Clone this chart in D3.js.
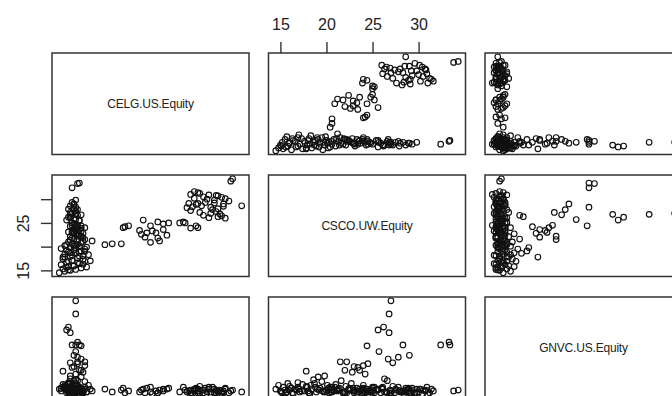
<!DOCTYPE html>
<html>
<head>
<meta charset="utf-8">
<script src="https://cdn.jsdelivr.net/npm/d3@7"></script>
<style>
    body { margin: 0; background: #fff; }
    svg { display: block; font-family: "Liberation Sans", Arial, sans-serif; }
</style>
</head>
<body>
<div id="chart"></div>
<script>
const names = ["CELG.US.Equity", "CSCO.UW.Equity", "GNVC.US.Equity"];

// one row per trading day, same order in the three arrays
const celg = [
    75.0, 72.0, 72.5, 71.5, 70.5, 69.5, 68.5, 70.5, 69.5, 69.0, 68.0, 67.0, 68.5, 66.0, 64.5, 63.5, 66.5,
    64.0, 61.5, 62.5, 60.5, 63.0, 67.5, 65.5, 68.0, 66.0, 63.5, 62.0, 63.0, 61.0, 61.0, 60.0, 65.0, 70.0,
    63.0, 62.5, 61.0, 59.5, 58.0, 55.0, 53.5, 52.0, 48.0, 50.0, 59.0, 52.5, 52.0, 54.5, 51.5, 49.0, 50.5,
    47.5, 47.0, 50.0, 48.5, 53.5, 44.0, 42.5, 43.0, 42.0, 39.5, 37.5, 34.0,
    29.5, 29.5, 27.5, 27.0, 28.0, 28.5, 30.0, 30.5, 29.5, 31.0, 29.5, 29.0, 30.0, 31.0, 28.0, 30.0, 29.0,
    30.5, 29.5, 31.5, 30.0, 28.5, 31.0, 32.0, 26.0, 32.0,
    25.0, 26.5, 28.0, 26.0, 29.5, 31.0, 27.5, 32.5, 25.5, 29.0, 30.5, 27.0, 32.0, 28.5, 33.5, 26.0, 30.0,
    28.0, 31.5, 26.5, 29.5, 33.0, 27.5, 31.0, 29.0, 25.5, 32.0, 28.0, 30.5, 29.5, 28.5, 31.0, 27.5, 30.0,
    29.0, 31.5, 28.0, 30.5, 29.5, 28.5, 31.0, 29.0, 30.0, 28.0, 29.5, 28.5, 30.5, 29.0, 28.0, 30.0, 28.5,
    29.5, 29.0, 28.0, 28.5, 29.5,
    27.0, 30.0, 31.5, 28.5, 30.5, 27.0, 32.5, 29.0, 30.0, 28.0, 31.0, 29.0, 30.0, 28.5, 27.5, 26.5,
    27.5, 29.0, 31.5, 26.5, 30.5, 28.0, 32.0, 29.5, 27.0, 31.5, 28.5, 30.0, 27.5, 31.0, 29.0, 30.5,
    28.0, 29.5, 27.5, 29.0,
    70.0, 67.5, 64.5, 68.5, 62.0, 66.5
];
const csco = [
    28.6, 33.8, 34.3, 29.6, 30.1, 30.4, 30.7, 26.0, 26.5, 26.9, 27.4, 27.8, 28.0, 26.1, 26.6, 27.2, 28.3,
    28.6, 28.4, 28.9, 29.1, 29.1, 29.8, 30.0, 30.8, 30.9, 31.2, 31.6, 31.4, 31.0, 27.6, 28.2, 29.3, 29.0,
    24.0, 24.4, 23.9, 25.0, 25.0, 25.0, 24.8, 25.2, 25.6, 24.4, 25.2, 21.2, 21.8, 22.4, 22.9, 22.9, 23.3,
    22.6, 23.4, 20.9, 22.0, 23.6, 24.4, 24.0, 24.2, 20.6, 20.6, 20.4, 21.2,
    27.0, 26.8, 26.2, 25.6, 26.8, 32.4, 33.3, 33.4, 28.3, 24.4, 25.7, 29.0, 27.8, 26.7, 27.2, 22.2, 23.0,
    23.6, 24.2, 22.8, 24.5, 23.4, 22.0, 24.0, 17.8, 21.5,
    14.5, 14.8, 15.0, 15.3, 15.2, 15.5, 15.8, 15.7, 16.2, 16.0, 16.4, 16.7, 16.9, 17.1, 17.0, 17.4, 17.6,
    17.9, 18.1, 18.4, 18.6, 18.3, 18.9, 19.1, 19.3, 19.6, 19.5, 19.8, 20.0, 20.3, 20.6, 20.8, 21.0, 21.3,
    21.6, 21.9, 22.1, 22.4, 22.7, 23.0, 23.3, 23.7, 24.0, 24.3, 24.7, 25.0, 25.4, 25.9, 26.3, 26.6, 27.0,
    27.5, 28.0, 28.6, 29.3, 29.8,
    15.6, 16.6, 17.3, 18.2, 18.8, 19.2, 19.9, 20.1, 20.5, 21.4, 22.2, 22.9, 23.5, 24.5, 16.9, 20.2,
    15.1, 15.9, 16.3, 17.8, 18.0, 18.7, 19.0, 19.7, 20.4, 21.1, 21.8, 22.5, 23.1, 23.9, 24.8, 25.6,
    26.1, 26.9, 27.9, 28.9,
    28.5, 29.2, 30.5, 26.3, 30.2, 27.0
];
const gnvc = [
    1.3, 1.4, 1.5, 1.2, 1.6, 1.1, 1.4, 1.7, 1.3, 1.5, 1.2, 1.8, 1.4, 1.6, 1.2, 1.9, 1.3,
    1.5, 1.1, 1.7, 1.4, 1.2, 1.6, 1.3, 1.5, 1.8, 1.2, 1.4, 1.6, 1.0, 1.5, 1.3, 1.7, 1.2,
    1.4, 1.6, 1.2, 1.5, 1.3, 1.7, 1.4, 1.2, 1.6, 1.3, 1.8, 1.5, 1.2, 1.6, 1.4, 1.7, 1.1,
    1.5, 1.3, 1.8, 1.2, 1.6, 1.4, 1.7, 1.2, 1.5, 1.3, 1.6, 1.4,
    11.0, 9.6, 8.2, 7.9, 7.6, 6.3, 6.6, 6.3, 6.3, 6.2, 5.6, 5.2, 5.0, 4.8, 4.4, 4.5, 4.0,
    3.6, 3.2, 3.4, 4.3, 3.9, 3.6, 4.1, 3.5, 4.5,
    1.6, 2.0, 1.4, 1.8, 1.2, 1.5, 2.2, 1.3, 1.7, 1.9, 1.1, 1.5, 1.8, 1.3, 1.6, 2.1, 1.4,
    1.8, 1.2, 1.6, 2.6, 2.0, 1.3, 2.9, 1.7, 1.4, 2.4, 3.0, 1.5, 1.2, 1.8, 1.4, 2.1, 1.6,
    2.5, 1.3, 1.9, 1.5, 2.2, 1.2, 1.7, 1.4, 2.0, 1.6, 1.3, 1.8, 1.5, 1.2, 2.7, 2.5, 1.4,
    1.6, 1.3, 1.7, 1.5, 1.2,
    1.2, 1.6, 1.4, 1.1, 1.8, 1.5, 1.3, 2.0, 1.3, 1.7, 1.2, 1.5, 1.3, 1.0, 2.3, 1.7,
    1.3, 1.5, 1.2, 1.9, 1.4, 2.2, 1.6, 1.3, 1.8, 1.5, 1.2, 1.7, 1.4, 1.6, 1.3, 1.5,
    1.8, 1.2, 1.4, 1.6,
    1.4, 1.2, 1.5, 1.3, 1.6, 1.1
];
const series = [celg, csco, gnvc];

const axisTicks = [15, 20, 25, 30];
const axisLabels = [15, 20, 25, 30];
const sideLabels = [15, 25];   // R drops the overlapping ones on the vertical axis

const width = 672;
const height = 396;

const svg = d3.select('#chart')
    .append('svg')
    .attr('width', width)
    .attr('height', height);

// panel grid (pairs() layout, the right column and last row run off the picture)
const gridLeft = 52, gridTop = 53;
const cellW = 197, cellH = 101.5;
const gapX = 19.5, gapY = 20.5;
const colX = (j) => gridLeft + j * (cellW + gapX);
const rowY = (i) => gridTop + i * (cellH + gapY);

// R pads the data range by 4% on each side
const padded = (values) => {
    const [lo, hi] = d3.extent(values);
    const pad = (hi - lo) * 0.04;
    return [lo - pad, hi + pad];
};

const xScales = series.map((v, j) => d3.scaleLinear().domain(padded(v)).range([colX(j), colX(j) + cellW]));
const yScales = series.map((v, i) => d3.scaleLinear().domain(padded(v)).range([rowY(i) + cellH, rowY(i)]));

const n = celg.length;

for (let i = 0; i < 3; i++) {
    for (let j = 0; j < 3; j++) {
        const g = svg.append('g');

        g.append('rect')
            .attr('x', colX(j))
            .attr('y', rowY(i))
            .attr('width', cellW)
            .attr('height', cellH)
            .attr('fill', 'none')
            .attr('stroke', '#333')
            .attr('stroke-width', 1.5);

        if (i === j) {
            g.append('text')
                .attr('x', colX(j) + cellW / 2)
                .attr('y', rowY(i) + cellH / 2)
                .attr('text-anchor', 'middle')
                .attr('dominant-baseline', 'central')
                .attr('font-size', 12)
                .attr('letter-spacing', -0.2)
                .attr('fill', '#222')
                .text(names[i]);
            continue;
        }

        g.selectAll('circle')
            .data(d3.range(n))
            .enter()
            .append('circle')
            .attr('cx', (k) => xScales[j](series[j][k]))
            .attr('cy', (k) => yScales[i](series[i][k]))
            .attr('r', 2.8)
            .attr('fill', 'none')
            .attr('stroke', '#111')
            .attr('stroke-width', 1.15);
    }
}

// top axis over the CSCO column
const topAxis = svg.append('g')
    .attr('transform', `translate(0,${rowY(0)})`)
    .call(d3.axisTop(xScales[1])
        .tickValues(axisTicks)
        .tickFormat((d) => axisLabels.includes(d) ? d : '')
        .tickSize(11)
        .tickPadding(12));

// left axis beside the CSCO row
const leftAxis = svg.append('g')
    .attr('transform', `translate(${colX(0)},0)`)
    .call(d3.axisLeft(yScales[1])
        .tickValues(axisTicks)
        .tickFormat((d) => sideLabels.includes(d) ? d : '')
        .tickSize(11)
        .tickPadding(12));

leftAxis.selectAll('.tick text')
    .attr('transform', function () {
        const x = +d3.select(this).attr('x');
        return `rotate(-90,${x},0)`;
    })
    .attr('text-anchor', 'middle')
    .attr('dy', '0em');

[topAxis, leftAxis].forEach((ax) => {
    ax.select('.domain').remove();
    ax.selectAll('.tick line').attr('stroke', '#333').attr('stroke-width', 1.4);
    ax.selectAll('.tick text')
        .attr('font-size', 16)
        .attr('font-family', '"Liberation Sans", Arial, sans-serif')
        .attr('fill', '#222');
});
</script>
</body>
</html>
